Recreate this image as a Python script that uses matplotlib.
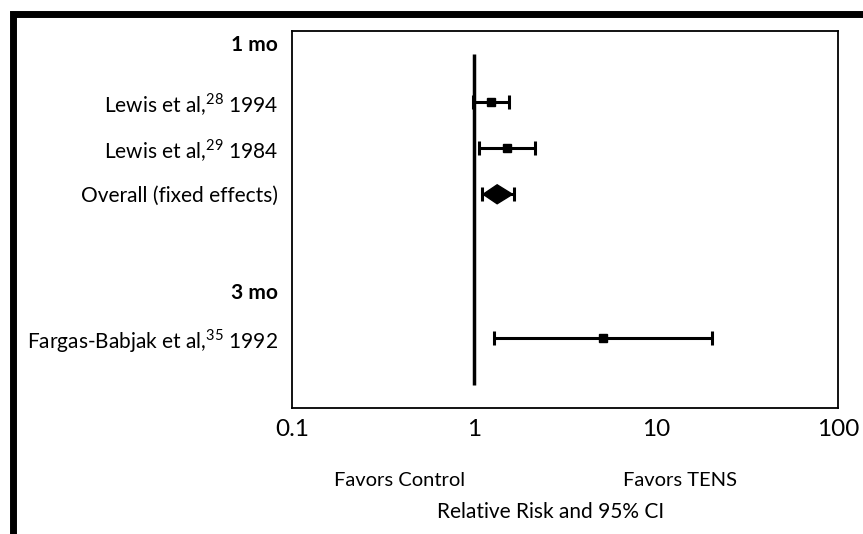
import matplotlib.pyplot as plt
from matplotlib.lines import Line2D

plt.rcParams['font.family'] = ['Lato', 'DejaVu Sans']
plt.rcParams['mathtext.fontset'] = 'custom'
plt.rcParams['mathtext.rm'] = 'Lato'

# Forest plot data (relative risk and 95% CI)
labels = ["1 mo", "Lewis et al,$^{28}$ 1994", "Lewis et al,$^{29}$ 1984",
          "Overall (fixed effects)", "3 mo", "Fargas-Babjak et al,$^{35}$ 1992"]
bold_rows = [0, 4]
study_rows = [1, 2, 5]
study_rr = [1.24, 1.51, 5.1]
study_lo = [0.99, 1.06, 1.29]
study_hi = [1.56, 2.16, 20.2]
pooled_row = 3
pooled_rr = 1.34
pooled_lo = 1.10
pooled_hi = 1.66

# vertical positions of the rows (top to bottom)
row_y = [0.24, 1.42, 2.34, 3.27, 5.21, 6.15]

fig = plt.figure(figsize=(8.63, 5.34), dpi=100)
ax = fig.add_axes([292 / 863, 1 - 408 / 534, 546 / 863, 377 / 534])
ax.set_xscale('log')
ax.set_xlim(0.1, 100)
ax.set_ylim(7.55, 0.0)

# line of no effect
ax.plot([1, 1], [0.46, 7.09], color='black', lw=2.5, solid_capstyle='butt')

# individual studies
for r, rr, lo, hi in zip(study_rows, study_rr, study_lo, study_hi):
    y = row_y[r]
    ax.errorbar(rr, y, xerr=[[rr - lo], [hi - rr]], fmt='s', color='black',
                ms=6, elinewidth=2.2, capsize=5, capthick=2.2)

# pooled estimate
y = row_y[pooled_row]
ax.errorbar(pooled_rr, y, xerr=[[pooled_rr - pooled_lo], [pooled_hi - pooled_rr]],
            fmt='none', color='black', elinewidth=2.2, capsize=5, capthick=2.2)
ax.fill([pooled_lo * 1.02, pooled_rr, pooled_hi * 0.98, pooled_rr],
        [y, y - 0.19, y, y + 0.19], color='black')

ax.set_yticks(row_y)
ax.set_yticklabels(labels, fontsize=15)
for i in bold_rows:
    ax.get_yticklabels()[i].set_fontweight('bold')
ax.tick_params(axis='y', length=0, pad=10)

ax.set_xticks([0.1, 1, 10, 100])
ax.set_xticklabels(["0.1", "1", "10", "100"], fontsize=17.5)
ax.xaxis.set_minor_locator(plt.NullLocator())
ax.tick_params(axis='x', length=0, pad=8)

for s in ax.spines.values():
    s.set_linewidth(1.3)

fig.text(400 / 863, 1 - 480 / 534, "Favors Control", ha='center', va='center', fontsize=14.5)
fig.text(680 / 863, 1 - 480 / 534, "Favors TENS", ha='center', va='center', fontsize=14.5)
fig.text(551 / 863, 1 - 512 / 534, "Relative Risk and 95% CI", ha='center', va='center', fontsize=15)

# thick outer frame (top and left edges)
fig.add_artist(Line2D([12.5 / 863, 12.5 / 863, 1], [0, 1 - 14 / 534, 1 - 14 / 534],
                      transform=fig.transFigure, color='black', lw=5,
                      solid_joinstyle='miter'))

fig.savefig('out.png', dpi=100)
